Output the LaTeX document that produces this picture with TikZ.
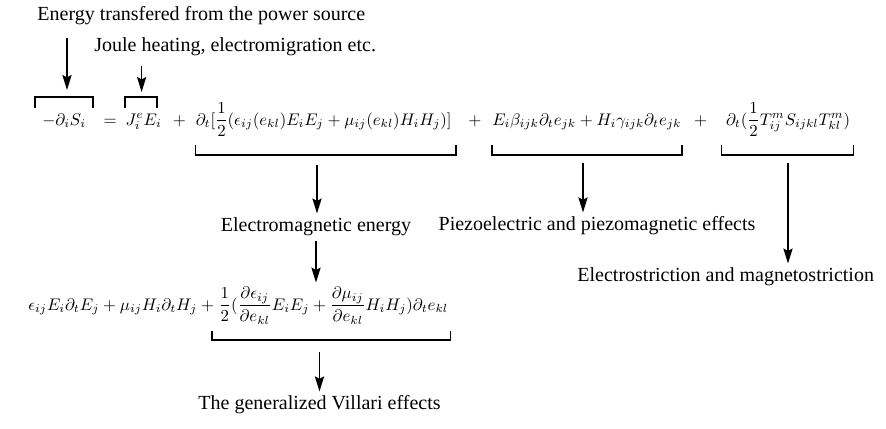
\documentclass[tikz,border=0pt]{standalone}
\usepackage{amsmath}
\usepackage{graphicx}
\usepackage[no-math]{fontspec}
\setmainfont{Liberation Serif}
\usetikzlibrary{positioning,arrows.meta,calc}
\newcommand{\eqpart}[1]{\scalebox{0.84}{$\displaystyle #1$}}

\begin{document}
\begin{tikzpicture}[
    x=0.5pt, y=-0.5pt,
    node distance=5pt,
    term/.style={inner sep=0pt, anchor=base west},
    desc/.style={inner sep=2pt, font=\fontsize{10}{12}\selectfont},
    brk/.style={line width=0.8pt},
    arr/.style={-{Stealth[length=7.5pt,width=4.6pt,inset=1.2pt]}, line width=0.8pt}
]
    \useasboundingbox (0,0) rectangle (886,428);

    % Top labels
    \node[desc, anchor=west] (source) at (33,16) {Energy transfered from the power source};
    \node[desc, anchor=west] (joule) at (90,47) {Joule heating, electromigration etc.};

    % Energy balance
    \node[term] (lhs) at (42,125) {\eqpart{-\partial_iS_i}};
    \node[term, base right=8.5pt of lhs] (equal) {\eqpart{=}};
    \node[term, base right=4pt of equal] (joul) {\eqpart{J_i^eE_i}};
    \node[term, base right=5.2pt of joul] (plusa) {\eqpart{+}};
    \node[term, base right=4.5pt of plusa] (emterm) {\eqpart{\partial_t[\frac{1}{2}(\epsilon_{ij}(e_{kl})E_iE_j+\mu_{ij}(e_{kl})H_iH_j)]}};
    \node[term, base right=8pt of emterm] (plusb) {\eqpart{+}};
    \node[term, base right=5pt of plusb] (pzterm) {\eqpart{E_i\beta_{ijk}\partial_te_{jk}+H_i\gamma_{ijk}\partial_te_{jk}}};
    \node[term, base right=6pt of pzterm] (plusc) {\eqpart{+}};
    \node[term, base right=9pt of plusc] (stterm) {\eqpart{\partial_t(\frac{1}{2}T^m_{ij}S_{ijkl}T^m_{kl})}};

    % Brackets over and under the terms
    \draw[brk] (35,108) -- (35,97) -- (93,97) -- (93,108);
    \draw[brk] (joul.west |- 0,108) -- (joul.west |- 0,97) -- ($(joul.east |- 0,97)+(-5,0)$) -- ($(joul.east |- 0,108)+(-5,0)$);
    \draw[brk] (emterm.west |- 0,145) -- (emterm.west |- 0,155) -- ($(emterm.east |- 0,155)+(4,0)$) -- ($(emterm.east |- 0,145)+(4,0)$);
    \draw[brk] (pzterm.west |- 0,145) -- (pzterm.west |- 0,155) -- (pzterm.east |- 0,155) -- (pzterm.east |- 0,145);
    \draw[brk] ($(stterm.west |- 0,145)+(-4,0)$) -- ($(stterm.west |- 0,155)+(-4,0)$) -- ($(stterm.east |- 0,155)+(3,0)$) -- ($(stterm.east |- 0,145)+(3,0)$);

    \coordinate (top1) at (67,97);
    \coordinate (top2) at ($(joul.center |- 0,97)+(-2,0)$);
    \coordinate (bot2) at (317,155);
    \coordinate (bot3) at (583,155);
    \coordinate (bot4) at (788,155);

    % Effects
    \node[desc] (emag) at (316,227) {Electromagnetic energy};
    \node[desc] (piezo) at (597,226) {Piezoelectric and piezomagnetic effects};
    \node[desc, anchor=west] (stric) at (573,277) {Electrostriction and magnetostriction};

    % Expanded electromagnetic part
    \node[term] (dera) at (28,310) {\eqpart{\epsilon_{ij}E_i\partial_tE_j+\mu_{ij}H_i\partial_tH_j+{}}};
    \node[term, base right=0pt of dera] (derb) {\eqpart{\frac{1}{2}(\frac{\partial\epsilon_{ij}}{\partial e_{kl}}E_iE_j+\frac{\partial\mu_{ij}}{\partial e_{kl}}H_iH_j)\partial_te_{kl}}};
    \draw[brk] ($(derb.west |- 0,331)+(-6,0)$) -- ($(derb.west |- 0,340)+(-6,0)$) -- ($(derb.east |- 0,340)+(2,0)$) -- ($(derb.east |- 0,331)+(2,0)$);

    \node[desc, anchor=west] (villari) at (194,405) {The generalized Villari effects};
    \coordinate (bot5) at (villari.north |- 0,340);

    % Arrows
    \draw[arr, shorten <=4pt, shorten >=3.5pt] (source.south -| top1) -- (top1);
    \draw[arr, shorten <=3pt, shorten >=2.5pt] (joule.south -| top2) -- (top2);
    \draw[arr, shorten <=5pt] (bot2) -- (emag.north -| bot2);
    \draw[arr, shorten <=4pt] (bot3) -- (piezo.north -| bot3);
    \draw[arr, shorten <=4pt] (bot4) -- (stric.north -| bot4);
    \draw[arr, shorten >=2pt] (emag.south) -- (emag.south |- derb.north);
    \draw[arr, shorten <=6pt] (bot5) -- (villari.north);
\end{tikzpicture}
\end{document}
